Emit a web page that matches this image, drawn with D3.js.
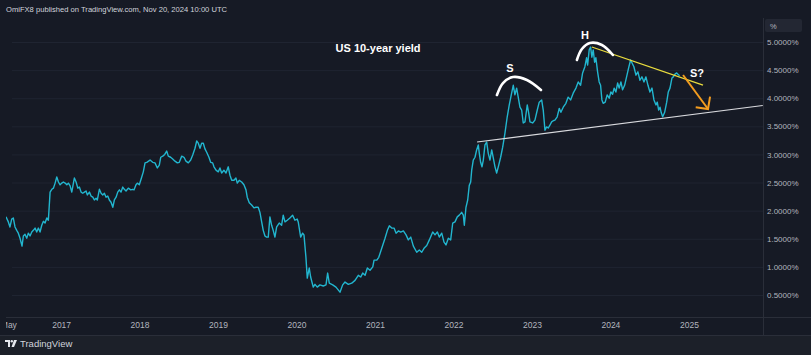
<!DOCTYPE html>
<html>
<head>
<meta charset="utf-8">
<script src="https://cdn.jsdelivr.net/npm/d3@7"></script>
<style>
  html, body { margin: 0; padding: 0; background: #161a25; }
  svg { display: block; font-family: "Liberation Sans", Arial, sans-serif; }
</style>
</head>
<body>
<svg id="chart" width="811" height="355"></svg>
<script>
// ---------- data (decimal year, yield %) ----------
const years = [
2016.299,2016.329,2016.350,2016.372,2016.392,2016.414,2016.436,2016.456,2016.478,2016.503,
2016.520,2016.541,2016.563,2016.583,2016.605,2016.627,2016.647,2016.669,2016.690,2016.711,
2016.732,2016.754,2016.775,2016.796,2016.818,2016.838,2016.860,2016.882,2016.902,2016.924,
2016.945,2016.966,2016.987,2017.009,2017.029,2017.051,2017.073,2017.093,2017.115,2017.136,
2017.157,2017.169,2017.191,2017.213,2017.233,2017.255,2017.276,2017.297,2017.318,2017.335,
2017.361,2017.382,2017.404,2017.424,2017.446,2017.462,2017.488,2017.510,2017.531,2017.552,
2017.573,2017.595,2017.615,2017.637,2017.659,2017.679,2017.701,2017.722,2017.743,2017.764,
2017.786,2017.806,2017.828,2017.857,2017.888,2017.913,2017.930,2017.955,2017.972,2017.997,
2018.028,2018.048,2018.070,2018.092,2018.134,2018.168,2018.197,2018.227,2018.252,2018.270,
2018.296,2018.321,2018.346,2018.367,2018.397,2018.423,2018.452,2018.482,2018.507,2018.538,
2018.567,2018.592,2018.622,2018.652,2018.678,2018.707,2018.729,2018.749,2018.771,2018.792,
2018.813,2018.834,2018.856,2018.885,2018.907,2018.932,2018.949,2018.975,2019.004,2019.025,
2019.047,2019.076,2019.102,2019.131,2019.153,2019.175,2019.204,2019.229,2019.246,2019.271,
2019.302,2019.331,2019.357,2019.373,2019.399,2019.429,2019.459,2019.484,2019.513,2019.535,
2019.557,2019.577,2019.599,2019.620,2019.641,2019.662,2019.684,2019.704,2019.726,2019.748,
2019.781,2019.811,2019.832,2019.854,2019.883,2019.917,2019.952,2019.981,2020.010,2020.023,
2020.054,2020.079,2020.096,2020.121,2020.138,2020.163,2020.181,2020.214,2020.236,2020.265,
2020.299,2020.341,2020.376,2020.397,2020.418,2020.461,2020.503,2020.554,2020.588,2020.618,
2020.660,2020.703,2020.745,2020.787,2020.818,2020.843,2020.873,2020.902,2020.936,2020.971,
2020.987,2021.022,2021.047,2021.085,2021.127,2021.157,2021.182,2021.213,2021.242,2021.268,
2021.297,2021.327,2021.361,2021.395,2021.424,2021.455,2021.488,2021.531,2021.564,2021.595,
2021.624,2021.659,2021.692,2021.735,2021.764,2021.794,2021.819,2021.850,2021.879,2021.904,
2021.934,2021.964,2021.990,2022.019,2022.048,2022.074,2022.104,2022.125,2022.138,2022.159,
2022.181,2022.201,2022.219,2022.232,2022.252,2022.274,2022.295,2022.316,2022.329,2022.346,
2022.363,2022.380,2022.401,2022.423,2022.443,2022.465,2022.487,2022.507,2022.529,2022.550,
2022.571,2022.601,2022.627,2022.656,2022.685,2022.711,2022.741,2022.762,2022.783,2022.805,
2022.825,2022.847,2022.869,2022.889,2022.911,2022.940,2022.958,2022.975,2023.009,2023.038,
2023.068,2023.093,2023.124,2023.144,2023.166,2023.187,2023.208,2023.229,2023.251,2023.271,
2023.293,2023.322,2023.348,2023.369,2023.399,2023.433,2023.462,2023.493,2023.526,2023.561,
2023.590,2023.620,2023.646,2023.675,2023.697,2023.710,2023.730,2023.748,2023.764,2023.781,
2023.799,2023.815,2023.837,2023.857,2023.875,2023.892,2023.908,2023.934,2023.959,2023.985,
2024.006,2024.028,2024.048,2024.070,2024.092,2024.112,2024.134,2024.155,2024.181,2024.206,
2024.232,2024.257,2024.274,2024.299,2024.325,2024.350,2024.376,2024.401,2024.427,2024.452,
2024.478,2024.503,2024.529,2024.554,2024.580,2024.596,2024.614,2024.631,2024.647,2024.665,
2024.690,2024.716,2024.736,2024.758,2024.783,2024.800,2024.822,2024.843,2024.856,2024.880
];
const yields = [
1.89,1.80,1.71,1.85,1.87,1.71,1.65,1.60,1.51,1.37,
1.55,1.58,1.51,1.60,1.55,1.62,1.65,1.69,1.62,1.69,
1.62,1.74,1.81,1.78,1.87,1.83,2.33,2.38,2.40,2.49,
2.60,2.51,2.46,2.49,2.51,2.49,2.46,2.49,2.44,2.33,
2.49,2.58,2.51,2.40,2.42,2.33,2.31,2.33,2.35,2.28,
2.33,2.26,2.24,2.19,2.22,2.19,2.38,2.31,2.28,2.31,
2.24,2.26,2.19,2.15,2.06,2.19,2.24,2.33,2.37,2.33,
2.42,2.38,2.35,2.40,2.37,2.38,2.37,2.46,2.49,2.46,
2.60,2.69,2.85,2.86,2.90,2.86,2.85,2.76,2.81,2.95,
2.97,3.00,3.06,2.97,2.95,2.92,2.88,2.85,2.86,2.97,
2.95,2.88,2.85,2.90,2.99,3.11,3.24,3.20,3.11,3.20,
3.20,3.10,3.04,2.95,2.86,2.85,2.78,2.72,2.69,2.76,
2.67,2.72,2.67,2.78,2.63,2.54,2.54,2.58,2.49,2.54,
2.51,2.46,2.37,2.24,2.14,2.10,2.05,2.06,2.06,1.97,
1.80,1.65,1.55,1.53,1.53,1.89,1.74,1.65,1.53,1.71,
1.78,1.74,1.92,1.80,1.83,1.87,1.92,1.83,1.85,1.80,
1.53,1.60,1.57,1.17,0.80,0.98,0.82,0.64,0.69,0.64,
0.68,0.66,0.68,0.89,0.71,0.68,0.64,0.55,0.68,0.73,
0.69,0.71,0.76,0.85,0.82,0.89,0.85,0.98,0.94,1.00,
1.12,1.12,1.17,1.33,1.51,1.65,1.73,1.69,1.69,1.60,
1.64,1.62,1.64,1.57,1.48,1.53,1.37,1.26,1.30,1.26,
1.33,1.38,1.48,1.62,1.57,1.62,1.53,1.60,1.44,1.39,
1.51,1.48,1.78,1.80,1.89,1.92,1.97,1.92,1.74,2.06,
2.19,2.45,2.51,2.72,2.90,2.95,3.08,3.17,3.02,2.86,
2.78,2.90,3.17,3.22,3.02,2.90,3.08,2.94,2.78,2.67,
2.78,2.95,3.13,3.38,3.67,3.88,4.09,4.23,4.06,4.18,
4.02,3.84,3.79,3.56,3.58,3.88,3.74,3.58,3.56,3.61,
3.79,3.93,3.97,3.79,3.43,3.49,3.47,3.52,3.58,3.60,
3.61,3.67,3.82,3.75,3.84,3.91,4.02,3.97,4.09,4.18,
4.29,4.23,4.45,4.56,4.72,4.59,4.86,4.91,4.73,4.86,
4.64,4.72,4.47,4.29,4.23,3.97,3.91,3.93,4.06,4.00,
4.11,4.07,4.18,4.11,4.27,4.18,4.29,4.15,4.23,4.38,
4.54,4.68,4.63,4.56,4.41,4.47,4.32,4.38,4.29,4.38,
4.23,4.11,4.18,3.97,3.88,3.93,3.79,3.84,3.74,3.67,
3.75,3.93,4.11,4.18,4.36,4.38,4.43,4.45,4.43,4.40
];

// axis ticks
const yTicks = [0.5,1.0,1.5,2.0,2.5,3.0,3.5,4.0,4.5,5.0];
const xTickYears = [2016.329,2017,2018,2019,2020,2021,2022,2023,2024,2025];
const xTickLabels = ["May","2017","2018","2019","2020","2021","2022","2023","2024","2025"];
const xDomainYears = [2016.2994, 2025.943];
const yDomain = [0.5, 5.0];

// annotations (decimal year, yield)
const supportLine = [[2022.30,3.22],[2025.94,3.87]];
const neckLine   = [[2023.764,4.911],[2025.178,4.235]];
const arrowShaft = [[2024.924,4.413],[2025.242,3.808]];
const arrowHead  = [[2025.268,4.027],[2025.242,3.808],[2025.085,3.838]];
const arcS = [[2022.554,4.057],[2022.631,4.270],[2022.758,4.377],[2022.936,4.324],[2023.115,4.146]];
const arcH = [[2023.573,4.680],[2023.637,4.875],[2023.739,4.982],[2023.892,4.947],[2024.032,4.769]];
const labels = [
  {t:2021.038, v:4.893, text:"US 10-year yield", size:11},
  {t:2022.720, v:4.537, text:"S", size:11},
  {t:2023.675, v:5.125, text:"H", size:11},
  {t:2025.102, v:4.448, text:"S?", size:11}
];

// ---------- helpers ----------
function decToDate(t){
  const y = Math.floor(t);
  const s = Date.UTC(y,0,1), e = Date.UTC(y+1,0,1);
  return new Date(s + (t - y) * (e - s));
}

// ---------- layout ----------
const W = 811, H = 355;
const plot = {left: 6, right: 763, top: 18, bottom: 317};
const axisBottom = 335;

const svg = d3.select("#chart");
const x = d3.scaleUtc().domain(xDomainYears.map(decToDate)).range([plot.left, plot.right]);
const y = d3.scaleLinear().domain(yDomain).range([295, 42]);

// backgrounds
svg.append("rect").attr("x",0).attr("y",0).attr("width",W).attr("height",H).attr("fill","#161a25");
svg.append("rect").attr("x",0).attr("y",axisBottom).attr("width",W).attr("height",H-axisBottom).attr("fill","#1c2029");

// clip
const defs = svg.append("defs");
defs.append("clipPath").attr("id","plotClip").append("rect")
  .attr("x",plot.left).attr("y",plot.top).attr("width",plot.right-plot.left).attr("height",plot.bottom-plot.top);
defs.append("clipPath").attr("id","timeClip").append("rect")
  .attr("x",plot.left).attr("y",plot.bottom).attr("width",plot.right-plot.left).attr("height",axisBottom-plot.bottom);

// grid
const gridColor = "#1f2431";
const gx = svg.append("g").attr("clip-path","url(#plotClip)")
  .attr("transform",`translate(0,${plot.bottom})`)
  .call(d3.axisBottom(x).tickValues(xTickYears.map(decToDate)).tickSize(-(plot.bottom-plot.top)).tickFormat(""));
gx.select(".domain").remove();
gx.selectAll("line").attr("stroke",gridColor);

const gy = svg.append("g").attr("clip-path","url(#plotClip)")
  .attr("transform",`translate(${plot.left},0)`)
  .call(d3.axisRight(y).tickValues(yTicks).tickSize(plot.right-plot.left).tickFormat(""));
gy.select(".domain").remove();
gy.selectAll("line").attr("stroke",gridColor);

// frame lines
svg.append("line").attr("x1",plot.left).attr("x2",W).attr("y1",plot.bottom+0.5).attr("y2",plot.bottom+0.5).attr("stroke","#2a2e39");
svg.append("line").attr("x1",plot.right+0.5).attr("x2",plot.right+0.5).attr("y1",plot.top).attr("y2",axisBottom).attr("stroke","#2a2e39");
svg.append("line").attr("x1",0).attr("x2",W).attr("y1",axisBottom+0.5).attr("y2",axisBottom+0.5).attr("stroke","#2a2e39");

// series
const data = years.map((t,i)=>({t:decToDate(t), v:yields[i]}));
const line = d3.line().x(d=>x(d.t)).y(d=>y(d.v));
const gPlot = svg.append("g").attr("clip-path","url(#plotClip)");
gPlot.append("path").datum(data).attr("d",line)
  .attr("fill","none").attr("stroke","#22b6cf").attr("stroke-width",1.4).attr("stroke-linejoin","round");

// annotations
const aLine = d3.line().x(d=>x(decToDate(d[0]))).y(d=>y(d[1]));
gPlot.append("path").datum(supportLine).attr("d",aLine).attr("fill","none").attr("stroke","#d9dade").attr("stroke-width",1.1);
gPlot.append("path").datum(neckLine).attr("d",aLine).attr("fill","none").attr("stroke","#e9dc3e").attr("stroke-width",1.3);
gPlot.append("path").datum(arrowShaft).attr("d",aLine).attr("fill","none").attr("stroke","#f39c1f").attr("stroke-width",2);
gPlot.append("path").datum(arrowHead).attr("d",aLine).attr("fill","none").attr("stroke","#f39c1f").attr("stroke-width",2).attr("stroke-linejoin","miter");
const arcLine = d3.line().curve(d3.curveCatmullRom).x(d=>x(decToDate(d[0]))).y(d=>y(d[1]));
gPlot.append("path").datum(arcS).attr("d",arcLine).attr("fill","none").attr("stroke","#ffffff").attr("stroke-width",2.6).attr("stroke-linecap","round");
gPlot.append("path").datum(arcH).attr("d",arcLine).attr("fill","none").attr("stroke","#ffffff").attr("stroke-width",2.6).attr("stroke-linecap","round");

svg.append("g").selectAll("text").data(labels).join("text")
  .attr("x",d=>x(decToDate(d.t))).attr("y",d=>y(d.v))
  .attr("text-anchor","middle").attr("dominant-baseline","central")
  .attr("fill","#ffffff").attr("font-size",d=>d.size).attr("font-weight","bold")
  .text(d=>d.text);

// price axis
const ya = svg.append("g").attr("transform",`translate(${plot.right},0)`)
  .call(d3.axisRight(y).tickValues(yTicks).tickSize(0).tickPadding(4).tickFormat(d=>d.toFixed(4)+"%"));
ya.select(".domain").remove();
ya.selectAll("text").attr("fill","#b2b5be").attr("font-size",8).attr("font-family","'Liberation Sans', Arial, sans-serif");

// "%" box
svg.append("rect").attr("x",765).attr("y",19).attr("width",37).attr("height",13).attr("rx",2).attr("fill","#232733");
svg.append("text").attr("x",770).attr("y",28.5).attr("fill","#b2b5be").attr("font-size",7.5).text("%");

// time axis
const xa = svg.append("g").attr("clip-path","url(#timeClip)").append("g")
  .attr("transform",`translate(0,${plot.bottom})`)
  .call(d3.axisBottom(x).tickValues(xTickYears.map(decToDate)).tickSize(0).tickPadding(5)
        .tickFormat((d,i)=>xTickLabels[i]));
xa.select(".domain").remove();
xa.selectAll("text").attr("fill","#b2b5be").attr("font-size",8.5).attr("font-family","'Liberation Sans', Arial, sans-serif");

// header
svg.append("text").attr("x",6).attr("y",12).attr("fill","#d1d4dc").attr("font-size",7.6)
  .text("OmiFX8 published on TradingView.com, Nov 20, 2024 10:00 UTC");

// footer logo + text
const logo = svg.append("g").attr("transform","translate(5,340)").attr("fill","#e6e8ee");
logo.append("path").attr("d","M0 0 H5 V7 H3 V2 H0 Z");
logo.append("circle").attr("cx",6.8).attr("cy",1.2).attr("r",1.2);
logo.append("path").attr("d","M9 0 H12 L9 7 H6.5 Z");
svg.append("text").attr("x",20).attr("y",347).attr("fill","#d1d4dc").attr("font-size",9.5).text("TradingView");
</script>
</body>
</html>
